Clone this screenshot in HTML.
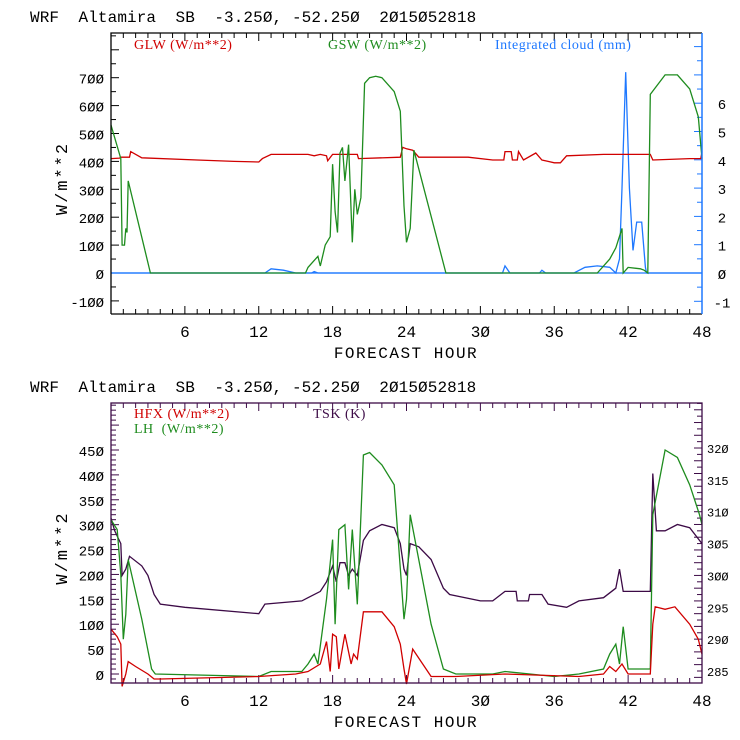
<!DOCTYPE html>
<html><head><meta charset="utf-8"><style>
body{margin:0;background:#fff;width:740px;height:740px;overflow:hidden}
svg{display:block}
text{white-space:pre}
</style></head><body>
<svg id="chart" width="740" height="740" xmlns="http://www.w3.org/2000/svg">
<g id="g1"></g>
<g id="g2"></g>
</svg>
<script>
// ---- Panel 1 data ----
const glwHours = [0,0.7,0.8,1.5,1.6,2.5,7,10,12,12.3,13,16,16.5,17,17.5,17.6,18,20,20.1,23.5,23.7,24,24.5,25,29,31,31.9,32,32.5,32.6,33,33.1,33.5,34.5,35,35.5,36,36.5,37,40,42,43.8,44,47,47.9,48];
const glwValues = [410,412,415,415,435,413,405,400,398,410,425,425,420,425,420,402,425,425,410,415,450,445,440,415,415,405,405,435,435,405,405,435,405,430,405,400,395,395,420,425,425,425,405,410,410,435];
const gswHours = [0,0.8,0.9,1.1,1.2,1.3,1.4,3.2,15.8,16,16.8,17,17.4,17.8,18,18.2,18.4,18.6,18.8,19,19.3,19.6,19.8,20,20.3,20.6,21,21.5,22,23,23.5,23.8,24,24.3,24.6,27.2,39.5,40.5,41,41.5,41.6,42,43,43.3,43.6,43.8,45,46,47,47.7,48];
const gswValues = [530,410,100,100,160,145,330,0,0,20,60,25,100,130,390,220,145,430,450,330,460,110,300,210,270,680,700,705,700,650,580,240,110,160,440,0,0,50,90,160,0,20,15,10,0,640,710,710,660,560,410];
const cloudHours = [0,12.5,13,14,15,16.3,16.5,16.8,31.8,32,32.4,34.8,35,35.3,37.6,38.5,39.5,40.5,41,41.3,41.5,41.8,42.1,42.4,42.7,43.1,43.4,43.5,48];
const cloudValues = [0,0,0.15,0.1,0,0,0.05,0,0,0.25,0,0,0.1,0,0,0.2,0.25,0.2,0,0.5,3,7.1,3,0.8,1.8,1.8,0.2,0,0];
const leftTicks1 = [-100,0,100,200,300,400,500,600,700];
const rightTicks1 = [-1,0,1,2,3,4,5,6];
// ---- Panel 2 data ----
const hfxHours = [0,0.5,0.8,0.9,1.2,1.4,2,3,3.5,4,12,15,16,17,17.5,17.8,18,18.3,18.5,19,19.5,19.7,20,20.5,22,23,23.5,23.8,24,24.5,26,28,32,38,40,40.5,41,41.5,42,43.8,44,44.2,45,45.8,47,47.7,48];
const hfxValues = [90,75,60,-25,0,25,15,0,-10,-10,-5,0,5,20,65,5,80,75,10,80,20,40,30,125,125,95,60,10,-20,50,-5,-5,0,-5,0,15,5,20,0,0,100,135,130,135,100,70,40];
const lhHours = [0,0.5,0.8,1,1.2,1.4,2.5,3.3,3.6,12,13,15.5,16,16.5,16.8,17.5,18,18.2,18.5,19,19.3,19.6,20,20.5,21,22,23,23.8,24,24.3,26,27,28,31,32,36,38,40,40.5,41,41.3,41.6,42,43.8,44,45,46,47,47.8,48];
const lhValues = [310,290,200,70,120,230,110,10,0,-5,5,5,20,40,20,150,270,100,290,300,170,290,140,440,445,420,380,110,150,320,100,10,0,0,5,-5,0,10,40,60,20,95,10,10,320,450,435,380,320,300];
const tskHours = [0,0.3,0.8,0.9,1.2,1.5,2.5,3,3.5,4,6,12,12.5,15.5,16,17,17.5,18,18.3,18.6,19,19.3,19.6,20,20.5,21,22,23,23.5,23.8,24,24.3,25,26,27,27.5,30,31,32,32.9,33,33.9,34,35,35.5,37,38,40,41,41.3,41.6,43.8,44,44.3,45,46,47,48];
const tskValues = [309,307,305,300,301,303,301.5,300,297,295.5,295,294,295.5,296,296.5,297.5,299,301.5,299,302,302,300,301,300,305.5,307,308,307.5,305,301,300,305,304.5,302.5,298,297,296,296,297.5,297.5,296,296,297,297,295.5,295,296,296.5,298,301,297.5,297.5,316,307,307,308,307.5,305];
const leftTicks2 = [0,50,100,150,200,250,300,350,400,450];
const rightTicks2 = [285,290,295,300,305,310,315,320];
const xTicks = [6,12,18,24,30,36,42,48];

const NS='http://www.w3.org/2000/svg';
const X0=111,X1=702;
function xs(h){return X0+(X1-X0)*h/48;}
function mk(parent,tag,attrs){const e=document.createElementNS(NS,tag);for(const k in attrs)e.setAttribute(k,attrs[k]);parent.appendChild(e);return e;}
function fmt(v){return String(v).replace(/0/g,'\u00d8');}

function panel(g,top,bot,ly,ry,frameColor,rightColor,lt,lminor,lmin,lmax,rt,rminor,rmin,rmax){
  const t=mk(g,'text',{x:30,y:top-11,'font-family':'Liberation Mono, monospace','font-size':16,'letter-spacing':0.1,fill:'#000'});
  t.textContent=fmt('WRF  Altamira  SB  -3.250, -52.250  2015052818');
  
  
  for(let h=1;h<48;h++){
    const len=(h%6===0)?8:5;
    mk(g,'line',{x1:xs(h),x2:xs(h),y1:bot,y2:bot-len,stroke:frameColor,'stroke-width':1});
    mk(g,'line',{x1:xs(h),x2:xs(h),y1:top,y2:top+len,stroke:frameColor,'stroke-width':1});
  }
  for(let v=Math.ceil(lmin/lminor)*lminor;v<=lmax;v+=lminor){
    const y=ly(v);const major=lt.includes(v)||(v%100===0);
    mk(g,'line',{x1:X0,x2:X0+(major?8:5),y1:y,y2:y,stroke:frameColor,'stroke-width':1});
  }
  for(let v=Math.ceil(rmin/rminor)*rminor;v<=rmax+1e-9;v+=rminor){
    const y=ry(v);const major=Math.abs(v-Math.round(v/(rminor*2))*(rminor*2))<1e-6;
    mk(g,'line',{x1:X1,x2:X1-(major?8:5),y1:y,y2:y,stroke:rightColor,'stroke-width':1});
  }
  lt.forEach(v=>{const e=mk(g,'text',{x:104,y:ly(v)+6,'text-anchor':'end','font-family':'Liberation Mono, monospace','font-size':14,fill:'#000'});e.textContent=fmt(v);
    
    });
  xTicks.forEach(v=>{const e=mk(g,'text',{x:xs(v),y:bot+23,'text-anchor':'middle','font-family':'Liberation Mono, monospace','font-size':16,fill:'#000'});e.textContent=fmt(v);
    
    });
  const xl=mk(g,'text',{x:406,y:bot+44,'text-anchor':'middle','font-family':'Liberation Mono, monospace','font-size':16,'letter-spacing':1.5,fill:'#000'});
  xl.textContent='FORECAST HOUR';
  
  
  const cy=(top+bot)/2;
  const yl=mk(g,'text',{x:0,y:0,'text-anchor':'middle','font-family':'Liberation Mono, monospace','font-size':17,'letter-spacing':2,fill:'#000',transform:`translate(67,${cy+5}) rotate(-90)`});
  yl.textContent='W/m**2';
  
  
}
function series(g,hours,vals,sc,color,name){
  const pts=hours.map((h,i)=>xs(h).toFixed(1)+','+sc(vals[i]).toFixed(1)).join(' ');
  const p=mk(g,'polyline',{points:pts,fill:'none',stroke:color,'stroke-width':1.3});
  
  
}
function legend(g,x,y,color,txt,name){
  const e=mk(g,'text',{x:x,y:y,'font-family':'Liberation Serif, serif','font-size':14,'letter-spacing':0.5,fill:color});
  e.textContent=txt;
  
  
}

// Panel 1
{
  const g=document.getElementById('g1');const top=33,bot=314;
  const ly=v=>273-v*0.279, ry=v=>273-v*28.3;
  panel(g,top,bot,ly,ry,'#000','#1e78ff',leftTicks1,50,-140,850,rightTicks1,0.5,-1.4,8.4);
  rightTicks1.forEach(v=>{const e=mk(g,'text',{x:722,y:ry(v)+6,'text-anchor':'middle','font-family':'Liberation Mono, monospace','font-size':14,fill:'#000'});e.textContent=fmt(v);
    
    });
  mk(g,'line',{x1:X0,x2:X1,y1:ry(0),y2:ry(0),stroke:'#1e78ff','stroke-width':1.3});
  series(g,cloudHours,cloudValues,ry,'#1e78ff','integrated-cloud-line');
  series(g,glwHours,glwValues,ly,'#d00000','glw-line');
  series(g,gswHours,gswValues,ly,'#1e8c1e','gsw-line');
  mk(g,'path',{d:`M${X0},${bot}V${top}H${X1}`,fill:'none',stroke:'#000','stroke-width':1.3});
  mk(g,'line',{x1:X0,x2:X1,y1:bot,y2:bot,stroke:'#000','stroke-width':1.3});
  mk(g,'line',{x1:X1,x2:X1,y1:top,y2:bot,stroke:'#1e78ff','stroke-width':1.5});
  legend(g,134,49,'#d00000','GLW (W/m**2)','legend-glw');
  legend(g,328,49,'#1e8c1e','GSW (W/m**2)','legend-gsw');
  legend(g,495,49,'#1e78ff','Integrated cloud (mm)','legend-cloud');
}
// Panel 2
{
  const g=document.getElementById('g2');const top=403,bot=683;
  const ly=v=>674-v*0.4978, ry=v=>671-(v-285)*6.371;
  panel(g,top,bot,ly,ry,'#3c0a46','#3c0a46',leftTicks2,10,-16,540,rightTicks2,1,283.2,327);
  rightTicks2.forEach(v=>{const e=mk(g,'text',{x:707,y:ry(v)+5,'font-family':'Liberation Mono, monospace','font-size':12,fill:'#000'});e.textContent=fmt(v);
    
    });
  series(g,tskHours,tskValues,ry,'#3c0a46','tsk-line');
  series(g,lhHours,lhValues,ly,'#1e8c1e','lh-line');
  series(g,hfxHours,hfxValues,ly,'#d00000','hfx-line');
  mk(g,'rect',{x:X0,y:top,width:X1-X0,height:bot-top,fill:'none',stroke:'#3c0a46','stroke-width':1.3});
  legend(g,134,418,'#d00000','HFX (W/m**2)','legend-hfx');
  legend(g,134,433,'#1e8c1e','LH  (W/m**2)','legend-lh');
  legend(g,313,418,'#3c0a46','TSK (K)','legend-tsk');
}
</script>
</body></html>
